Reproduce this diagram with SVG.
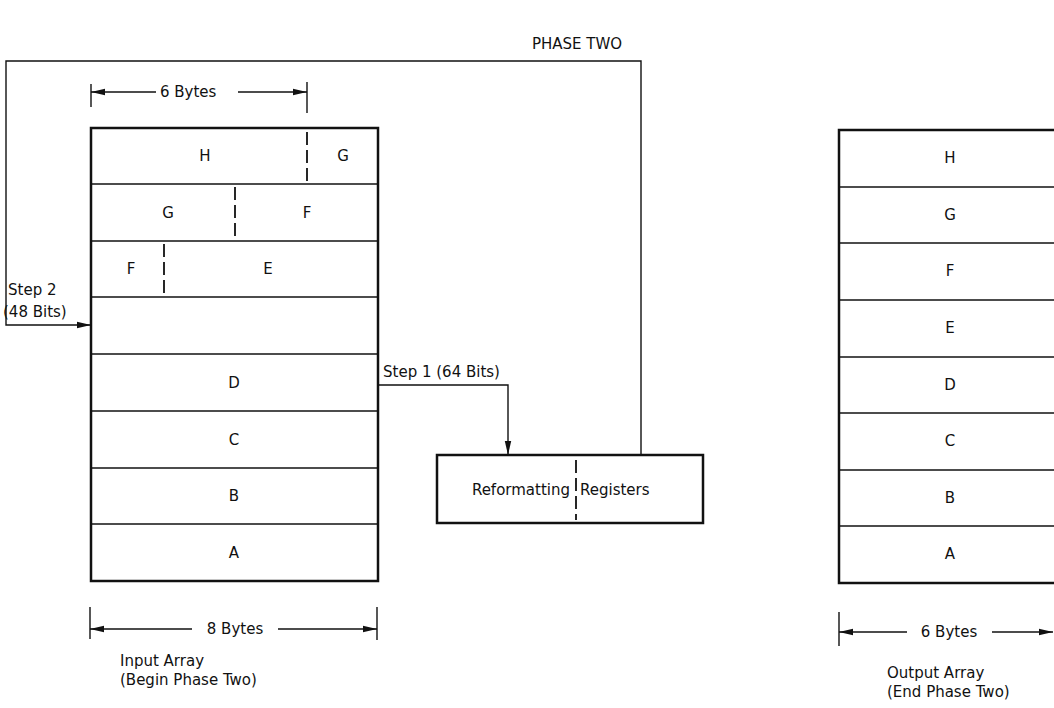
<svg xmlns="http://www.w3.org/2000/svg" width="1054" height="708" viewBox="0 0 1054 708">
<style>
text{font-family:"DejaVu Sans","Liberation Sans",sans-serif;font-size:15px;fill:#111}
.c{text-anchor:middle}
.box{fill:none;stroke:#111;stroke-width:2.5}
.div{stroke:#111;stroke-width:1.5}
.dash{stroke:#111;stroke-width:1.8;stroke-dasharray:13 5}
.ln{fill:none;stroke:#111;stroke-width:1.4}
</style>
<defs>
<marker id="ah" markerWidth="14" markerHeight="8" refX="14" refY="4" orient="auto" markerUnits="userSpaceOnUse">
<path d="M0,0.8 L14,4 L0,7.2 Z" fill="#111"/>
</marker>
<marker id="ahs" markerWidth="14" markerHeight="8" refX="0" refY="4" orient="auto" markerUnits="userSpaceOnUse">
<path d="M14,0.8 L0,4 L14,7.2 Z" fill="#111"/>
</marker>
</defs>
<rect width="1054" height="708" fill="#fff"/>
<text class="c" x="577" y="49">PHASE TWO</text>

<g id="input-array">
<rect class="box" x="91" y="128" width="287" height="453"/>
<line class="div" x1="91" y1="184" x2="378" y2="184"/>
<line class="div" x1="91" y1="241" x2="378" y2="241"/>
<line class="div" x1="91" y1="297" x2="378" y2="297"/>
<line class="div" x1="91" y1="354" x2="378" y2="354"/>
<line class="div" x1="91" y1="411" x2="378" y2="411"/>
<line class="div" x1="91" y1="468" x2="378" y2="468"/>
<line class="div" x1="91" y1="524" x2="378" y2="524"/>
<line class="dash" x1="307" y1="132" x2="307" y2="182"/>
<line class="dash" x1="235" y1="187" x2="235" y2="238"/>
<line class="dash" x1="164" y1="244" x2="164" y2="296"/>
<text class="c" x="205" y="161">H</text>
<text class="c" x="343" y="161">G</text>
<text class="c" x="168" y="218">G</text>
<text class="c" x="307" y="218">F</text>
<text class="c" x="131" y="274">F</text>
<text class="c" x="268" y="274">E</text>
<text class="c" x="234" y="388">D</text>
<text class="c" x="234" y="445">C</text>
<text class="c" x="234" y="501">B</text>
<text class="c" x="234" y="558">A</text>
</g>

<g id="registers">
<rect class="box" x="437" y="455" width="266" height="68"/>
<line class="dash" x1="576" y1="460" x2="576" y2="520"/>
<text x="570" y="495" text-anchor="end">Reformatting</text>
<text x="580" y="495">Registers</text>
</g>

<g id="output-array">
<rect class="box" x="839" y="130" width="222" height="453"/>
<line class="div" x1="839" y1="187" x2="1061" y2="187"/>
<line class="div" x1="839" y1="243" x2="1061" y2="243"/>
<line class="div" x1="839" y1="300" x2="1061" y2="300"/>
<line class="div" x1="839" y1="357" x2="1061" y2="357"/>
<line class="div" x1="839" y1="413" x2="1061" y2="413"/>
<line class="div" x1="839" y1="470" x2="1061" y2="470"/>
<line class="div" x1="839" y1="526" x2="1061" y2="526"/>
<text class="c" x="950" y="163">H</text>
<text class="c" x="950" y="220">G</text>
<text class="c" x="950" y="276">F</text>
<text class="c" x="950" y="333">E</text>
<text class="c" x="950" y="390">D</text>
<text class="c" x="950" y="446">C</text>
<text class="c" x="950" y="503">B</text>
<text class="c" x="950" y="559">A</text>
</g>

<g id="connectors">
<polyline class="ln" points="641,455 641,61 6,61 6,325 91,325" marker-end="url(#ah)"/>
<polyline class="ln" points="378,385 508,385 508,455" marker-end="url(#ah)"/>
<text x="8" y="295">Step 2</text>
<text x="3" y="317">(48 Bits)</text>
<text x="383" y="377">Step 1 (64 Bits)</text>
</g>

<g id="dimensions">
<line class="ln" x1="91" y1="84" x2="91" y2="107"/>
<line class="ln" x1="307" y1="82" x2="307" y2="113"/>
<line class="ln" x1="91" y1="92" x2="156" y2="92" marker-start="url(#ahs)"/>
<line class="ln" x1="238" y1="92" x2="307" y2="92" marker-end="url(#ah)"/>
<text x="160" y="97">6 Bytes</text>

<line class="ln" x1="90" y1="607" x2="90" y2="639"/>
<line class="ln" x1="377" y1="607" x2="377" y2="640"/>
<line class="ln" x1="90" y1="629" x2="192" y2="629" marker-start="url(#ahs)"/>
<line class="ln" x1="278" y1="629" x2="377" y2="629" marker-end="url(#ah)"/>
<text class="c" x="235" y="634">8 Bytes</text>
<text x="120" y="666">Input Array</text>
<text x="120" y="685">(Begin Phase Two)</text>

<line class="ln" x1="839" y1="612" x2="839" y2="646"/>
<line class="ln" x1="839" y1="632" x2="907" y2="632" marker-start="url(#ahs)"/>
<line class="ln" x1="992" y1="632" x2="1053" y2="632" marker-end="url(#ah)"/>
<text class="c" x="949" y="637">6 Bytes</text>
<text x="887" y="678">Output Array</text>
<text x="887" y="697">(End Phase Two)</text>
</g>
</svg>
